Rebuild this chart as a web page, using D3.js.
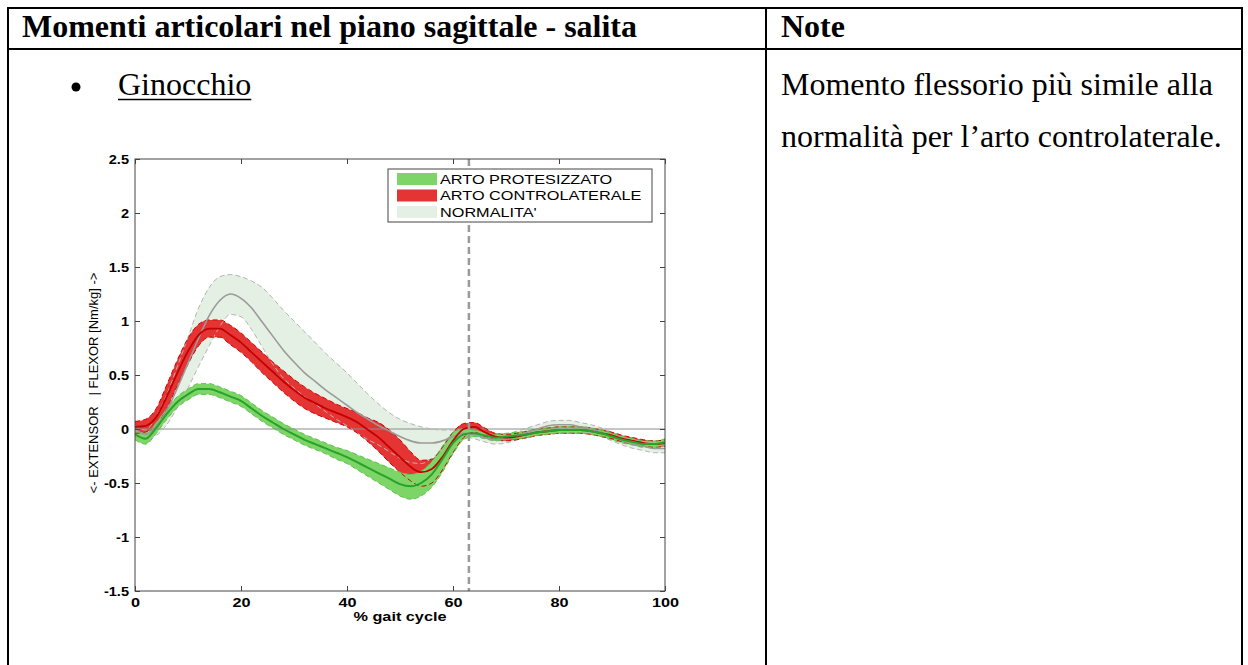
<!DOCTYPE html>
<html>
<head>
<meta charset="utf-8">
<script src="https://cdn.jsdelivr.net/npm/d3@7"></script>
<style>
  html, body { margin: 0; padding: 0; background: #fff; }
  svg { display: block; }
  text { white-space: pre; }
</style>
</head>
<body>
<svg id="page" width="1248" height="665"></svg>
<script>
// Knee sagittal moment during stair ascent (% of gait cycle)
const gaitPct = [0,2,4,6,8,10,12,14,16,18,20,22,24,26,28,30,32,34,36,38,40,42,44,46,48,50,
                 52,54,56,58,60,62,64,66,68,70,72,74,76,78,80,82,84,86,88,90,92,94,96,98,100];

// Normal reference band
const normMean = [0.00,-0.05,0.03,0.17,0.38,0.61,0.84,1.05,1.19,1.25,1.21,1.12,0.99,0.86,0.73,0.62,0.52,0.44,0.36,0.29,0.22,0.15,0.09,0.03,-0.02,-0.07,
                  -0.11,-0.13,-0.13,-0.11,-0.07,-0.04,-0.05,-0.08,-0.10,-0.09,-0.06,-0.03,0.00,0.03,0.04,0.04,0.02,0.00,-0.03,-0.07,-0.11,-0.14,-0.16,-0.18,-0.18];
const normHigh = [0.03,-0.01,0.12,0.32,0.58,0.85,1.12,1.31,1.41,1.43,1.41,1.37,1.31,1.21,1.10,1.00,0.90,0.80,0.70,0.61,0.52,0.42,0.32,0.23,0.15,0.09,
                  0.05,0.02,0.00,-0.01,-0.01,0.00,-0.01,-0.04,-0.06,-0.05,-0.02,0.01,0.04,0.07,0.08,0.08,0.06,0.04,0.01,-0.03,-0.07,-0.10,-0.12,-0.13,-0.13];
const normLow  = [-0.03,-0.09,-0.06,0.04,0.20,0.38,0.58,0.77,0.95,1.06,1.04,0.92,0.76,0.60,0.47,0.38,0.30,0.23,0.16,0.09,0.03,-0.04,-0.10,-0.15,-0.21,-0.27,
                  -0.31,-0.32,-0.27,-0.19,-0.10,-0.07,-0.09,-0.12,-0.14,-0.13,-0.10,-0.07,-0.04,-0.01,0.00,0.00,-0.02,-0.04,-0.07,-0.11,-0.15,-0.18,-0.20,-0.22,-0.22];

// Contralateral limb
const contraMean = [0.02,0.03,0.11,0.30,0.52,0.72,0.87,0.93,0.93,0.87,0.80,0.71,0.62,0.53,0.44,0.36,0.29,0.24,0.19,0.15,0.11,0.06,-0.01,-0.08,-0.17,-0.26,
                    -0.35,-0.40,-0.37,-0.26,-0.11,0.00,0.02,-0.03,-0.07,-0.08,-0.07,-0.05,-0.03,-0.02,-0.01,-0.01,-0.01,-0.02,-0.04,-0.06,-0.09,-0.11,-0.13,-0.14,-0.13];
const contraHigh = [0.07,0.09,0.19,0.41,0.64,0.84,0.97,1.01,1.01,0.96,0.89,0.80,0.71,0.62,0.54,0.46,0.39,0.33,0.28,0.23,0.19,0.15,0.10,0.06,-0.01,-0.10,
                    -0.21,-0.29,-0.28,-0.17,-0.03,0.05,0.06,0.01,-0.04,-0.05,-0.04,-0.02,0.00,0.01,0.02,0.02,0.02,0.01,-0.01,-0.03,-0.06,-0.08,-0.10,-0.11,-0.10];
const contraLow  = [-0.04,-0.03,0.03,0.19,0.40,0.60,0.77,0.85,0.85,0.78,0.71,0.62,0.52,0.43,0.34,0.26,0.19,0.14,0.10,0.06,0.02,-0.04,-0.12,-0.21,-0.31,-0.40,
                    -0.48,-0.53,-0.50,-0.38,-0.22,-0.08,-0.03,-0.07,-0.10,-0.11,-0.10,-0.08,-0.06,-0.05,-0.04,-0.04,-0.04,-0.05,-0.07,-0.09,-0.12,-0.14,-0.16,-0.17,-0.16];

// Prosthetic limb
const prosMean = [-0.05,-0.09,0.01,0.14,0.25,0.32,0.37,0.37,0.34,0.30,0.26,0.19,0.12,0.06,0.00,-0.05,-0.10,-0.14,-0.18,-0.22,-0.26,-0.31,-0.36,-0.41,-0.46,-0.51,
                  -0.53,-0.50,-0.42,-0.28,-0.13,-0.05,-0.04,-0.06,-0.08,-0.07,-0.06,-0.05,-0.03,-0.02,-0.01,-0.01,-0.01,-0.02,-0.04,-0.07,-0.10,-0.12,-0.14,-0.14,-0.12];
const prosHigh = [0.00,-0.04,0.06,0.19,0.30,0.37,0.42,0.42,0.39,0.35,0.31,0.24,0.17,0.11,0.05,0.00,-0.05,-0.09,-0.13,-0.17,-0.20,-0.24,-0.28,-0.32,-0.36,-0.40,
                  -0.42,-0.39,-0.30,-0.16,-0.03,0.00,-0.01,-0.03,-0.05,-0.04,-0.03,-0.02,0.00,0.01,0.02,0.02,0.02,0.01,-0.01,-0.04,-0.07,-0.09,-0.11,-0.11,-0.09];
const prosLow  = [-0.10,-0.14,-0.04,0.09,0.20,0.27,0.32,0.32,0.29,0.25,0.21,0.14,0.07,0.01,-0.05,-0.10,-0.15,-0.19,-0.23,-0.28,-0.32,-0.38,-0.44,-0.50,-0.56,-0.62,
                  -0.65,-0.62,-0.54,-0.40,-0.23,-0.10,-0.07,-0.09,-0.11,-0.10,-0.09,-0.08,-0.06,-0.05,-0.04,-0.04,-0.04,-0.05,-0.07,-0.10,-0.13,-0.15,-0.17,-0.17,-0.15];

const toeOffPct = 63;
const xTicks = [0, 20, 40, 60, 80, 100];
const yTicks = [-1.5, -1, -0.5, 0, 0.5, 1, 1.5, 2, 2.5];
const legendLabels = ["ARTO PROTESIZZATO", "ARTO CONTROLATERALE", "NORMALITA'"];

const svg = d3.select("#page");

// ---------- document table ----------
const serif = "'Liberation Serif', 'Times New Roman', serif";
const tbl = svg.append("g").attr("stroke", "#000").attr("stroke-width", 2);
tbl.append("line").attr("x1", 7).attr("x2", 1243).attr("y1", 8).attr("y2", 8);
tbl.append("line").attr("x1", 7).attr("x2", 1243).attr("y1", 49).attr("y2", 49);
tbl.append("line").attr("x1", 8).attr("x2", 8).attr("y1", 7).attr("y2", 665);
tbl.append("line").attr("x1", 766).attr("x2", 766).attr("y1", 7).attr("y2", 665);
tbl.append("line").attr("x1", 1242).attr("x2", 1242).attr("y1", 7).attr("y2", 665);

function docText(x, y, str, opts = {}) {
  return svg.append("text")
    .attr("x", x).attr("y", y)
    .attr("font-family", serif)
    .attr("font-size", opts.size || 32)
    .attr("font-weight", opts.bold ? "bold" : "normal")
    .attr("fill", "#000")
    .text(str);
}
docText(22, 37, "Momenti articolari nel piano sagittale - salita", { bold: true });
docText(781, 37, "Note", { bold: true });
svg.append("circle").attr("cx", 76).attr("cy", 87).attr("r", 4.5).attr("fill", "#000");
const gin = docText(118, 95, "Ginocchio");
const ginW = gin.node().getComputedTextLength();
svg.append("line").attr("x1", 118).attr("x2", 118 + ginW).attr("y1", 99.5).attr("y2", 99.5)
  .attr("stroke", "#000").attr("stroke-width", 1.6);
docText(781, 95, "Momento flessorio più simile alla");
docText(781, 147, "normalità per l’arto controlaterale.");

// ---------- chart ----------
const sans = "'Liberation Sans', Arial, Helvetica, sans-serif";
const chartFont = 13;
// the figure is laid out wider than tall, so horizontal glyph widths are widened
const stretchBy = k => sel => sel.each(function () {
  const w = this.getComputedTextLength();
  if (w > 0) d3.select(this).attr("textLength", w * k).attr("lengthAdjust", "spacingAndGlyphs");
});
const stretch = stretchBy(1.25);
const plainNum = d => String(d);   // ASCII hyphen for negatives

const x = d3.scaleLinear().domain([0, 100]).range([135, 665]);
const y = d3.scaleLinear().domain([-1.5, 2.5]).range([591, 159]);

const chart = svg.append("g");
const clip = chart.append("clipPath").attr("id", "plotclip");
clip.append("rect").attr("x", 135).attr("y", 159).attr("width", 530).attr("height", 432);
const plot = chart.append("g").attr("clip-path", "url(#plotclip)");

const rows = (lo, hi, mid) => gaitPct.map((p, i) => ({ p, lo: lo[i], hi: hi[i], m: mid[i] }));
const normRows = rows(normLow, normHigh, normMean);
const contraRows = rows(contraLow, contraHigh, contraMean);
const prosRows = rows(prosLow, prosHigh, prosMean);

const curve = d3.curveMonotoneX;
const band = d3.area().curve(curve).x(d => x(d.p)).y0(d => y(d.lo)).y1(d => y(d.hi));
const lineOf = key => d3.line().curve(curve).x(d => x(d.p)).y(d => y(d[key]));

const colors = {
  prosFill: "#7dd568", prosLine: "#27a327",
  contraFill: "#e53434", contraLine: "#c40000",
  normFill: "#e4f0e4", normLine: "#9a9a9a"
};

// band fills
plot.append("path").datum(normRows).attr("d", band).attr("fill", colors.normFill);
plot.append("path").datum(contraRows).attr("d", band).attr("fill", colors.contraFill);
plot.append("path").datum(prosRows).attr("d", band).attr("fill", colors.prosFill);

// zero reference
plot.append("line").attr("x1", x(0)).attr("x2", x(100)).attr("y1", y(0)).attr("y2", y(0))
  .attr("stroke", "#8c8c8c").attr("stroke-width", 1);

// band edges (dashed)
["lo", "hi"].forEach(k => {
  plot.append("path").datum(normRows).attr("d", lineOf(k)).attr("fill", "none")
    .attr("stroke", "#b4b4b4").attr("stroke-width", 1).attr("stroke-dasharray", "5,3");
  plot.append("path").datum(contraRows).attr("d", lineOf(k)).attr("fill", "none")
    .attr("stroke", "#d40000").attr("stroke-width", 1).attr("stroke-dasharray", "5,3");
  plot.append("path").datum(prosRows).attr("d", lineOf(k)).attr("fill", "none")
    .attr("stroke", "#5cc24a").attr("stroke-width", 1).attr("stroke-dasharray", "5,3");
});

// mean curves
plot.append("path").datum(normRows).attr("d", lineOf("m")).attr("fill", "none")
  .attr("stroke", colors.normLine).attr("stroke-width", 1.6);
plot.append("path").datum(contraRows).attr("d", lineOf("m")).attr("fill", "none")
  .attr("stroke", colors.contraLine).attr("stroke-width", 1.8);
plot.append("path").datum(prosRows).attr("d", lineOf("m")).attr("fill", "none")
  .attr("stroke", colors.prosLine).attr("stroke-width", 2);

// toe-off marker
plot.append("line").attr("x1", x(toeOffPct)).attr("x2", x(toeOffPct))
  .attr("y1", y(2.5)).attr("y2", y(-1.5))
  .attr("stroke", "#9a9a9a").attr("stroke-width", 2.5).attr("stroke-dasharray", "7,4");

// axes box with inward ticks on all sides
const axisColor = "#444";
const styleAxis = k => g => {
  g.selectAll(".domain").remove();
  g.selectAll(".tick line").attr("stroke", axisColor);
  g.selectAll(".tick text").attr("fill", "#000").attr("font-family", sans)
    .attr("font-size", chartFont).attr("font-weight", "bold").call(stretchBy(k));
};
chart.append("g").attr("transform", `translate(0,${y(-1.5)})`)
  .call(d3.axisBottom(x).tickValues(xTicks).tickSizeInner(-5).tickSizeOuter(0).tickPadding(7).tickFormat(plainNum))
  .call(styleAxis(1.25));
chart.append("g").attr("transform", `translate(0,${y(2.5)})`)
  .call(d3.axisTop(x).tickValues(xTicks).tickSizeInner(-5).tickSizeOuter(0).tickFormat(""))
  .call(styleAxis(1));
chart.append("g").attr("transform", `translate(${x(0)},0)`)
  .call(d3.axisLeft(y).tickValues(yTicks).tickSizeInner(-5).tickSizeOuter(0).tickPadding(6).tickFormat(plainNum))
  .call(styleAxis(1.12));
chart.append("g").attr("transform", `translate(${x(100)},0)`)
  .call(d3.axisRight(y).tickValues(yTicks).tickSizeInner(-5).tickSizeOuter(0).tickFormat(""))
  .call(styleAxis(1));
chart.append("rect").attr("x", x(0)).attr("y", y(2.5))
  .attr("width", x(100) - x(0)).attr("height", y(-1.5) - y(2.5))
  .attr("fill", "none").attr("stroke", axisColor).attr("stroke-width", 1);

// axis titles
chart.append("text").attr("x", (x(0) + x(100)) / 2).attr("y", 621)
  .attr("text-anchor", "middle").attr("font-family", sans).attr("font-size", chartFont)
  .attr("font-weight", "bold").text("% gait cycle").call(stretch);
chart.append("text")
  .attr("transform", `translate(98,${(y(2.5) + y(-1.5)) / 2 + 8}) rotate(-90)`)
  .attr("text-anchor", "middle").attr("font-family", sans).attr("font-size", chartFont)
  .text("<- EXTENSOR   | FLEXOR [Nm/kg] ->");

// legend
const lg = chart.append("g").attr("transform", "translate(388,169)");
lg.append("rect").attr("width", 264).attr("height", 53).attr("fill", "#fff")
  .attr("stroke", "#444").attr("stroke-width", 1);
const legendFills = [colors.prosFill, colors.contraFill, colors.normFill];
legendLabels.forEach((lab, i) => {
  lg.append("rect").attr("x", 9).attr("y", 4 + i * 16.5).attr("width", 40).attr("height", 12)
    .attr("fill", legendFills[i]);
  lg.append("text").attr("x", 52).attr("y", 14.5 + i * 16.5)
    .attr("font-family", sans).attr("font-size", chartFont).attr("fill", "#000").text(lab).call(stretch);
});
</script>
</body>
</html>
